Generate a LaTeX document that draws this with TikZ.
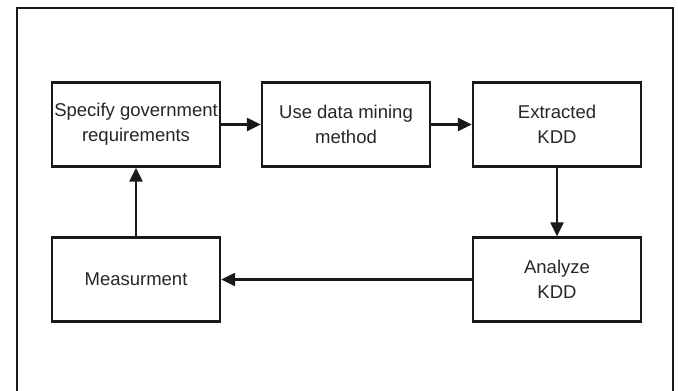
\documentclass[tikz,border=0pt]{standalone}
\usepackage{fontspec}
\setmainfont{Liberation Sans}
\usetikzlibrary{arrows.meta}
\begin{document}
\begin{tikzpicture}[x=1pt,y=-1pt,
  box/.style={draw=black!90, line width=2.4pt, minimum width=168pt, minimum height=84pt, inner sep=0pt, align=center, font=\fontsize{18.5}{25}\selectfont, text=black!85},
  conn/.style={draw=black!90, line width=2.4pt, -{Triangle[length=14pt,width=13pt]}}]
\useasboundingbox (0,0) rectangle (678,391);
\draw[line width=2.8pt, black!90] (17,395) -- (17,8) -- (673,8) -- (673,395);
\node[box] (spec) at (136,124.5) {Specify government\\requirements};
\node[box] (use) at (346,124.5) {Use data mining\\method};
\node[box] (ext) at (557,124.5) {Extracted\\KDD};
\node[box] (meas) at (136,279.5) {Measurment};
\node[box] (ana) at (557,279.5) {Analyze\\KDD};
\draw[conn] (spec) -- (use);
\draw[conn] (use) -- (ext);
\draw[conn] (ext) -- (ana);
\draw[conn] (ana) -- (meas);
\draw[conn] (meas) -- (spec);
\end{tikzpicture}
\end{document}
